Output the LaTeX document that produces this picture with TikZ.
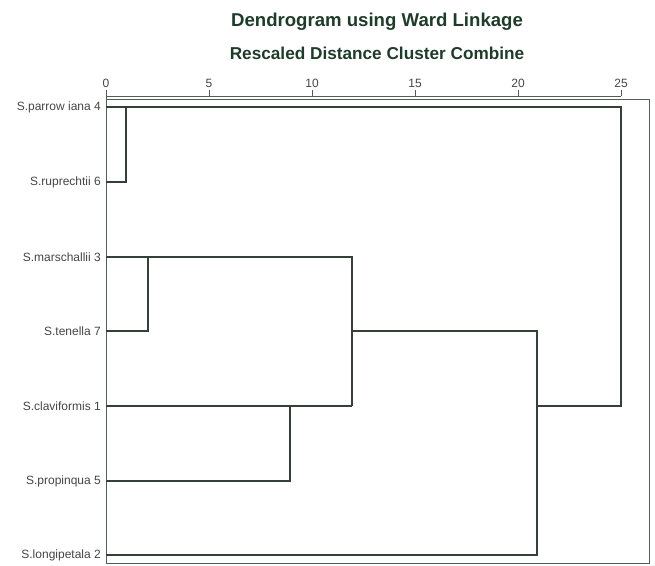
\documentclass[tikz,border=0pt]{standalone}
\usepackage{fontspec}
\setmainfont{Liberation Sans}
\usepackage{tikz}
\usetikzlibrary{positioning,calc}

\definecolor{titlegreen}{HTML}{1F3B29}
\definecolor{linegray}{HTML}{344038}
\definecolor{textgray}{HTML}{454545}

\begin{document}
\begin{tikzpicture}[
  x=1pt, y=-1pt,
  ttl/.style={font=\fontsize{18.6}{20}\selectfont\bfseries, text=titlegreen, inner sep=0pt},
  subttl/.style={font=\fontsize{17.2}{19}\selectfont\bfseries, text=titlegreen, inner sep=0pt},
  leaf/.style={anchor=east, font=\fontsize{12}{14}\selectfont, text=textgray, inner sep=0pt},
  tick/.style={font=\fontsize{12}{14}\selectfont, text=textgray, inner sep=0pt},
  link/.style={draw=linegray, line width=1.2pt},
  frame/.style={draw=linegray!85, line width=0.9pt},
]
\useasboundingbox (0,0) rectangle (655,565);

% titles
\node[ttl] (title) at (377,22) {Dendrogram using Ward Linkage};
\node[subttl] (subtitle) at (377,53) {Rescaled Distance Cluster Combine};

% distance axis
\coordinate (ax0) at (106,96);
\coordinate (ax25) at (621,96);
\draw[frame] (ax0) -- (ax25);
\foreach \d in {0,5,...,25} {
  \draw[frame] ($(ax0)!\d/25!(ax25)$) -- ++(0,-6);
  \node[tick] (n\d) at ($(ax0)!\d/25!(ax25) + (0,-13)$) {\d};
}

% plot frame
\draw[frame] (ax0) -- (106,563) -- (649,563) -- (649,99) -- (106,99);

% leaves
\node[leaf] (L4) at (101,107) {S.parrow iana 4};
\node[leaf] (L6) at (101,182) {S.ruprechtii 6};
\node[leaf] (L3) at (101,257) {S.marschallii 3};
\node[leaf] (L7) at (101,331) {S.tenella 7};
\node[leaf] (L1) at (101,406) {S.claviformis 1};
\node[leaf] (L5) at (101,481) {S.propinqua 5};
\node[leaf] (L2) at (101,555) {S.longipetala 2};

\coordinate (s4) at (106,107);
\coordinate (s6) at (106,182);
\coordinate (s3) at (106,257);
\coordinate (s7) at (106,331);
\coordinate (s1) at (106,406);
\coordinate (s5) at (106,481);
\coordinate (s2) at (106,555);

% joins
\coordinate (a46) at (126,107);
\coordinate (b46) at (126,182);
\coordinate (a37) at (148,257);
\coordinate (b37) at (148,331);
\coordinate (a15) at (290,406);
\coordinate (b15) at (290,481);
\coordinate (c37) at (352,257);
\coordinate (c15) at (352,406);
\coordinate (c12) at (352,331);
\coordinate (d1) at (537,331);
\coordinate (d2) at (537,555);
\coordinate (d12) at (537,406);
\coordinate (e1) at (621,107);
\coordinate (e2) at (621,406);

\draw[link] (s6) -- (b46) -- (a46);
\draw[link] (s4) -- (e1) -- (e2) -- (d12);
\draw[link] (s7) -- (b37) -- (a37);
\draw[link] (s3) -- (c37) -- (c15);
\draw[link] (s5) -- (b15) -- (a15);
\draw[link] (s1) -- (c15);
\draw[link] (c12) -- (d1) -- (d2) -- (s2);
\end{tikzpicture}
\end{document}
